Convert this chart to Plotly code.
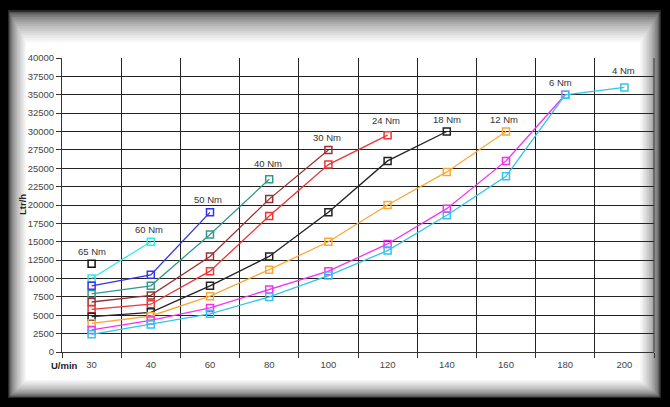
import plotly.graph_objects as go

speeds = ["30", "40", "60", "80", "100", "120", "140", "160", "180", "200"]

torque_labels = ["65 Nm", "60 Nm", "50 Nm", "40 Nm", "30 Nm", "24 Nm", "18 Nm", "12 Nm", "6 Nm", "4 Nm"]

flow_65 = [12000]
flow_60 = [10000, 15000]
flow_50 = [9000, 10500, 19000]
flow_40 = [7900, 9000, 16000, 23500]
flow_30 = [6800, 7700, 13000, 20800, 27500]
flow_24 = [5800, 6500, 11000, 18500, 25500, 29500]
flow_18 = [4800, 5400, 9000, 13000, 19000, 26000, 30000]
flow_12 = [3900, 4900, 7600, 11200, 15000, 20000, 24500, 30000]
flow_6 = [3000, 4300, 6000, 8500, 11000, 14700, 19500, 26000, 35000]
flow_4 = [2400, 3750, 5200, 7500, 10400, 13800, 18600, 23900, 35000, 36000]

y_ticks = list(range(0, 40001, 2500))

series = [flow_65, flow_60, flow_50, flow_40, flow_30, flow_24, flow_18, flow_12, flow_6, flow_4]
colors = ["#111111", "#33E8E8", "#3333EE", "#339988", "#993333", "#F03333",
          "#222222", "#F8A838", "#F033F0", "#33C4EE"]
label_shift = [(0, 5), (-2, 5), (-2, 5), (-1, 8), (-1, 5), (-2, 7),
               (0, 5), (-2, 5), (-5, 5), (-1, 9)]

fig = go.Figure()

# window-like panel with soft edges
W, H = 670, 407
L, R, T, B = 62, 654, 58, 352
pw, ph = R - L, B - T


def px_x(v):
    return (v - L) / pw


def px_y(v):
    return (B - v) / ph


N = 14
for i in range(N + 1):
    t = i / N
    g = int(40 + (255 - 40) * (t ** 0.5))
    col = f"rgb({g},{g},{g})"
    x0 = 8 + i * 1.3
    x1 = 661 - i * 1.5
    y0 = 10 + i * 2.3
    y1 = 398 - i * 1.3
    fig.add_shape(type="rect", xref="paper", yref="paper",
                  x0=px_x(x0), x1=px_x(x1), y0=px_y(y1), y1=px_y(y0),
                  fillcolor=col, line=dict(width=0), layer="below")

for vals, name, col, (dx, dy) in zip(series, torque_labels, colors, label_shift):
    xs = speeds[:len(vals)]
    fig.add_trace(go.Scatter(
        x=xs, y=vals, mode="lines+markers", name=name,
        line=dict(color=col, width=1.3),
        marker=dict(symbol="square-open", size=7, color=col, line=dict(width=1.5, color=col)),
        showlegend=False, cliponaxis=False))
    fig.add_annotation(x=len(vals) - 1, y=vals[-1], text=name, showarrow=False,
                       xshift=dx, yshift=dy, yanchor="bottom",
                       font=dict(size=9.5, color="#333333", family="Liberation Sans, Arial"))

fig.add_annotation(xref="paper", yref="paper", x=px_x(22), y=px_y(205), text="<b>Ltr/h</b>",
                   textangle=-90, showarrow=False, xanchor="center", yanchor="middle",
                   font=dict(size=9.5, color="#222222", family="Liberation Sans, Arial"))
fig.add_annotation(xref="paper", yref="paper", x=px_x(80), y=px_y(365), text="<b>U/min</b>",
                   showarrow=False, xanchor="right", yanchor="middle",
                   font=dict(size=9.5, color="#222222", family="Liberation Sans, Arial"))

fig.update_xaxes(type="category", categoryorder="array", categoryarray=speeds,
                 range=[-0.5, 9.5], tickson="boundaries", ticks="outside", ticklen=5,
                 tickcolor="#333333", showgrid=True, gridcolor="#222222", gridwidth=1,
                 showline=True, linecolor="#333333", mirror=False, zeroline=False,
                 ticklabelstandoff=4,
                 tickfont=dict(size=9.5, color="#444444", family="Liberation Sans, Arial"))
fig.update_yaxes(range=[0, 40000], tickvals=y_ticks, tickformat="d", ticks="outside", ticklen=5,
                 tickcolor="#333333", showgrid=True, gridcolor="#222222", gridwidth=1,
                 showline=True, linecolor="#333333", zeroline=False,
                 tickfont=dict(size=9.5, color="#444444", family="Liberation Sans, Arial"))

fig.add_shape(type="line", xref="paper", yref="paper", x0=1, x1=1, y0=0, y1=1,
              line=dict(color="#333333", width=1))

fig.update_layout(width=W, height=H, margin=dict(l=L, r=W - R, t=T, b=H - B),
                  paper_bgcolor="black", plot_bgcolor="rgba(0,0,0,0)",
                  font=dict(family="Liberation Sans, Arial"))

fig.write_html("out.html")
